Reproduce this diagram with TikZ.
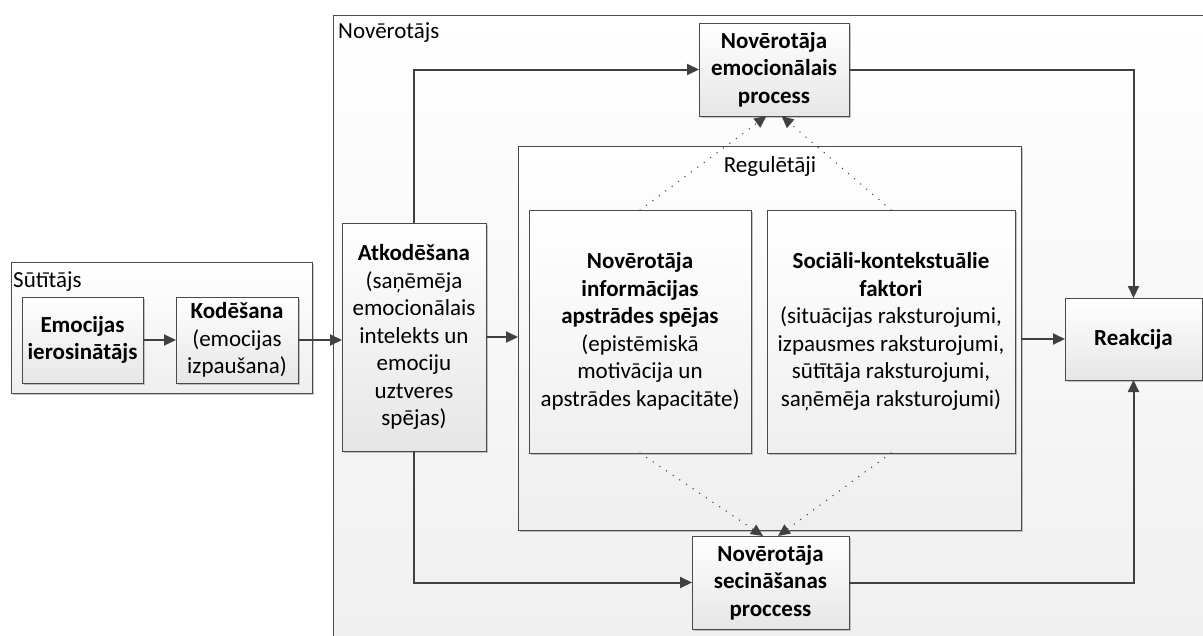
\documentclass[tikz,border=0pt]{standalone}
\usepackage{fontspec}
\setmainfont{Carlito}
\usetikzlibrary{arrows.meta,shadows}
\definecolor{edgecol}{HTML}{404040}
\definecolor{framecol}{HTML}{4A4A4A}
\definecolor{shadecol}{HTML}{E6E6E6}
\definecolor{paneshade}{HTML}{EFEFEF}
\newcommand\diagfont{\fontsize{23}{27.5}\selectfont}
\begin{document}
\begin{tikzpicture}[x=1pt,y=-1pt,
  font=\diagfont,
  box/.style={draw=framecol, line width=0.9pt, top color=white, bottom color=shadecol,
    anchor=north west, align=center, inner sep=0pt, outer sep=0pt, font=\diagfont,
    drop shadow={shadow xshift=2pt, shadow yshift=-2pt, fill=black!50, opacity=0.45}},
  boldbox/.style={box, font=\diagfont\bfseries},
  pane/.style={box, bottom color=paneshade},
  caption/.style={anchor=base west, inner sep=0pt},
  flow/.style={draw=edgecol, line width=2pt, -{Triangle[length=12pt,width=11pt]}},
  influence/.style={draw=edgecol, line width=1.5pt, dash pattern=on 0pt off 8pt,
    line cap=round, -{Triangle[length=12pt,width=11pt]}}
]
\useasboundingbox (0,0) rectangle (1203,635);

% outer frames
\node[pane, minimum width=301pt, minimum height=131pt] (sender) at (11,262) {};
\node[pane, minimum width=890pt, minimum height=660pt] (observer) at (333,15) {};
\node[pane, minimum width=503pt, minimum height=384pt] (reg) at (518,146) {};

\node[caption] (senderlabel) at (13,287) {Sūtītājs};
\node[caption] (observerlabel) at (338,38) {Novērotājs};
\node[anchor=base, inner sep=0pt] (reglabel) at (770,172) {Regulētāji};

% sender side
\node[boldbox, minimum width=121pt, minimum height=86pt] (emo1) at (22,297)
  {Emocijas\\ierosinātājs};
\node[box, minimum width=122pt, minimum height=86pt] (kod) at (176,297)
  {\textbf{Kodēšana}\\(emocijas\\izpaušana)};

% observer side
\node[box, minimum width=144pt, minimum height=228pt] (atk) at (342,223)
  {\textbf{Atkodēšana}\\(saņēmēja\\emocionālais\\intelekts un\\emociju\\uztveres\\spējas)};
\node[boldbox, minimum width=150pt, minimum height=93pt] (emo) at (699,23)
  {Novērotāja\\emocionālais\\process};
\node[boldbox, minimum width=157pt, minimum height=93pt] (sec) at (692,536)
  {Novērotāja\\secināšanas\\proccess};
\node[box, minimum width=222pt, minimum height=243pt, bottom color=paneshade] (info) at (529,210)
  {\textbf{Novērotāja}\\\textbf{informācijas}\\\textbf{apstrādes spējas}\\(epistēmiskā\\motivācija un\\apstrādes kapacitāte)};
\node[box, minimum width=248pt, minimum height=243pt, bottom color=paneshade] (soc) at (767,210)
  {\textbf{Sociāli-kontekstuālie}\\\textbf{faktori}\\(situācijas raksturojumi,\\izpausmes raksturojumi,\\sūtītāja raksturojumi,\\saņēmēja raksturojumi)};
\node[boldbox, minimum width=137pt, minimum height=82pt] (reak) at (1065,298)
  {Reakcija};

% main flow
\draw[flow] (emo1.east) -- (kod.west);
\draw[flow] (kod.east) -- (kod.east -| atk.west);
\draw[flow] (atk.east) -- (atk.east -| reg.west);
\draw[flow] (reg.east |- reak.west) -- (reak.west);
\draw[flow] (atk.north) |- (emo.west);
\draw[flow] (emo.east) -| (reak.north);
\draw[flow] (atk.south) |- (sec.west);
\draw[flow] (sec.east) -| (reak.south);

% regulator influences
\draw[influence] (info.north) -- ([xshift=-7.5pt]emo.south);
\draw[influence] (soc.north) -- ([xshift=7.5pt]emo.south);
\draw[influence] (info.south) -- ([xshift=-7.5pt]sec.north);
\draw[influence] (soc.south) -- ([xshift=7.5pt]sec.north);
\end{tikzpicture}
\end{document}
